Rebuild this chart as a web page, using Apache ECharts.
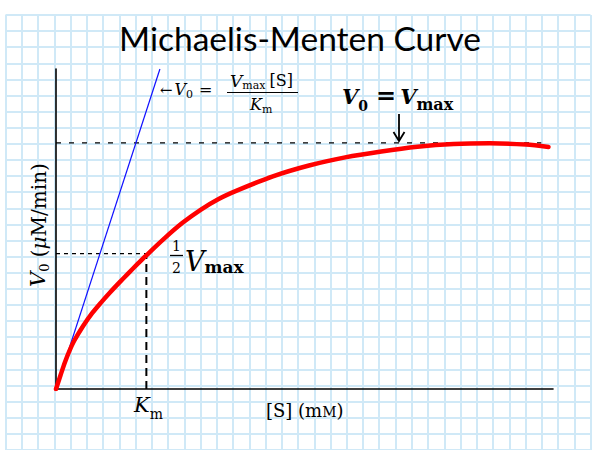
<!DOCTYPE html>
<html>
<head>
<meta charset="utf-8">
<script src="https://cdn.jsdelivr.net/npm/echarts@6/dist/echarts.min.js"></script>
<style>
html,body{margin:0;padding:0;background:#ffffff;}
#c{width:600px;height:450px;}
</style>
</head>
<body>
<div id="c"></div>
<script>
// ---------- data ----------
const titleText = 'Michaelis-Menten Curve';
// substrate concentration [S] (mM) along the red curve
const sValues  = [0, 0.05, 0.10, 0.15, 0.20, 0.30, 0.40, 0.50, 0.60, 0.70, 0.80, 0.90, 1.00, 1.20, 1.40, 1.60, 1.80, 2.00, 2.40, 2.80, 3.20, 3.60, 4.00, 4.40, 4.80, 5.20, 5.45];
// initial velocity V0 (µM/min) along the red curve
const v0Values = [0, 0.56, 1.10, 1.56, 1.95, 2.56, 3.08, 3.52, 3.93, 4.32, 4.70, 5.07, 5.43, 6.12, 6.75, 7.28, 7.72, 8.06, 8.64, 9.08, 9.41, 9.65, 9.84, 9.95, 9.98, 9.93, 9.83];
// initial-slope line V0 = Vmax[S]/Km
const tangentS = [0, 1.15];
const tangentV = [0, 13];
// reference levels
const kmValue = 1.0;
const vmaxValue = 10;
const halfLevel = 5.5;
const vmaxDashEnd = 5.37;
const xMax = 5.5;
const yMax = 13;

// ---------- helpers ----------
const cv = document.createElement('canvas').getContext('2d');
const SERIF = '"DejaVu Serif", serif';
function fontStr(r){ return (r.italic?'italic ':'') + (r.bold?'bold ':'') + r.size + 'px ' + (r.family || SERIF); }
function runs(x, base, list){
  const out = []; let cx = x;
  list.forEach(function(r){
    cx += (r.gap || 0);
    const f = fontStr(r);
    cv.font = f;
    const w = cv.measureText(r.t).width;
    out.push({type:'text', x: cx, y: base + (r.dy || 0) - 0.32 * r.size, silent:true, z:20,
      style:{text: r.t, font: f, fill:'#000', align:'left', verticalAlign:'middle'}});
    cx += w;
  });
  return out;
}
function pairs(xs, ys){ return xs.map(function(v,i){ return [v, ys[i]]; }); }

const graphics = [];
// y axis name (rotated)
graphics.push({type:'group', x:40, y:225, z:20, rotation: Math.PI/2, children: runs(-62, 5, [
  {t:'V', size:21, italic:true},
  {t:'0', size:13, dy:4},
  {t:' (', size:20},
  {t:'\u03bc', size:20, italic:true},
  {t:'M/min)', size:20}
])});
// x axis name
runs(266, 416, [
  {t:'[S] (m', size:18},
  {t:'M', size:14},
  {t:')', size:18}
]).forEach(function(g){ graphics.push(g); });
// Km label
runs(134, 412, [
  {t:'K', size:21, italic:true},
  {t:'m', size:14, dy:6}
]).forEach(function(g){ graphics.push(g); });
// 1/2 Vmax label
runs(172, 250, [{t:'1', size:14}]).forEach(function(g){ graphics.push(g); });
runs(172, 272, [{t:'2', size:14}]).forEach(function(g){ graphics.push(g); });
graphics.push({type:'line', silent:true, z:20, shape:{x1:170, y1:255.5, x2:183, y2:255.5}, style:{stroke:'#000', lineWidth:1.3}});
runs(185, 270, [
  {t:'V', size:27, italic:true},
  {t:'max', size:17, bold:true, dy:2}
]).forEach(function(g){ graphics.push(g); });
// V0 = Vmax label
runs(342, 103, [
  {t:'V', size:21, italic:true, bold:true},
  {t:'0', size:14, bold:true, dy:7},
  {t:'=', size:24, bold:true, gap:8},
  {t:'V', size:21, italic:true, bold:true, gap:4},
  {t:'max', size:16, bold:true, dy:7}
]).forEach(function(g){ graphics.push(g); });
graphics.push({type:'polyline', silent:true, z:20, shape:{points:[[399,114],[399,141]]}, style:{stroke:'#000', lineWidth:1.8, fill:null}});
graphics.push({type:'polyline', silent:true, z:20, shape:{points:[[393.5,132],[399,141],[404.5,132]]}, style:{stroke:'#000', lineWidth:1.8, fill:null}});
// formula near the tangent line
runs(160, 95, [
  {t:'\u2190', size:15},
  {t:'V', size:16, italic:true, gap:2},
  {t:'0', size:11, dy:3},
  {t:'=', size:16, gap:6}
]).forEach(function(g){ graphics.push(g); });
graphics.push({type:'line', silent:true, z:20, shape:{x1:227, y1:92.5, x2:298, y2:92.5}, style:{stroke:'#000', lineWidth:1}});
runs(230, 86, [
  {t:'V', size:17, italic:true},
  {t:'max', size:11, dy:3},
  {t:'[S]', size:16, gap:4}
]).forEach(function(g){ graphics.push(g); });
runs(250, 110, [
  {t:'K', size:16, italic:true},
  {t:'m', size:11, dy:3}
]).forEach(function(g){ graphics.push(g); });

const paperLine = {show:true, lineStyle:{color:'#d0e9f7', width:2}};
const hidden = {show:false};

const option = {
  animation: false,
  backgroundColor: '#ffffff',
  title: {
    text: titleText, left: 'center', top: 16, z: 20,
    textStyle: {fontFamily: 'Lato', fontSize: 33.5, fontWeight: 'normal', color: '#000'}
  },
  grid: [
    {left: 5.5, top: 15, width: 585, height: 438.75, z: 0},
    {left: 56, top: 69, width: 497, height: 320}
  ],
  xAxis: [
    {gridIndex:0, type:'value', min:0, max:36, interval:1, z:0, axisLine:hidden, axisTick:hidden, axisLabel:hidden, splitLine:paperLine},
    {gridIndex:1, type:'value', min:0, max:xMax, axisLine:{show:true, onZero:false, lineStyle:{color:'#000', width:1.6}}, axisTick:hidden, axisLabel:hidden, splitLine:hidden}
  ],
  yAxis: [
    {gridIndex:0, type:'value', min:0, max:27, interval:1, z:0, axisLine:hidden, axisTick:hidden, axisLabel:hidden, splitLine:paperLine},
    {gridIndex:1, type:'value', min:0, max:yMax, axisLine:{show:true, onZero:false, lineStyle:{color:'#000', width:1.6}}, axisTick:hidden, axisLabel:hidden, splitLine:hidden}
  ],
  series: [
    {type:'line', xAxisIndex:1, yAxisIndex:1, data: pairs(tangentS, tangentV), symbol:'none', lineStyle:{color:'#1010ff', width:1.2}, z:3},
    {type:'line', xAxisIndex:1, yAxisIndex:1, data: [[0, vmaxValue],[vmaxDashEnd, vmaxValue]], symbol:'none', lineStyle:{color:'#000', width:1.3, type:[5,8]}, z:2},
    {type:'line', xAxisIndex:1, yAxisIndex:1, data: [[0, halfLevel],[kmValue, halfLevel]], symbol:'none', lineStyle:{color:'#000', width:1.2, type:[4,4]}, z:2},
    {type:'line', xAxisIndex:1, yAxisIndex:1, data: [[kmValue, 0],[kmValue, halfLevel]], symbol:'none', lineStyle:{color:'#000', width:2, type:[8,5]}, z:2},
    {type:'line', xAxisIndex:1, yAxisIndex:1, data: pairs(sValues, v0Values), symbol:'none', smooth:0.3, lineStyle:{color:'#ff0000', width:4.5, cap:'round', join:'round'}, z:5}
  ],
  graphic: {elements: graphics}
};

const chart = echarts.init(document.getElementById('c'), null, {renderer:'svg'});
chart.setOption(option);
</script>
</body>
</html>
